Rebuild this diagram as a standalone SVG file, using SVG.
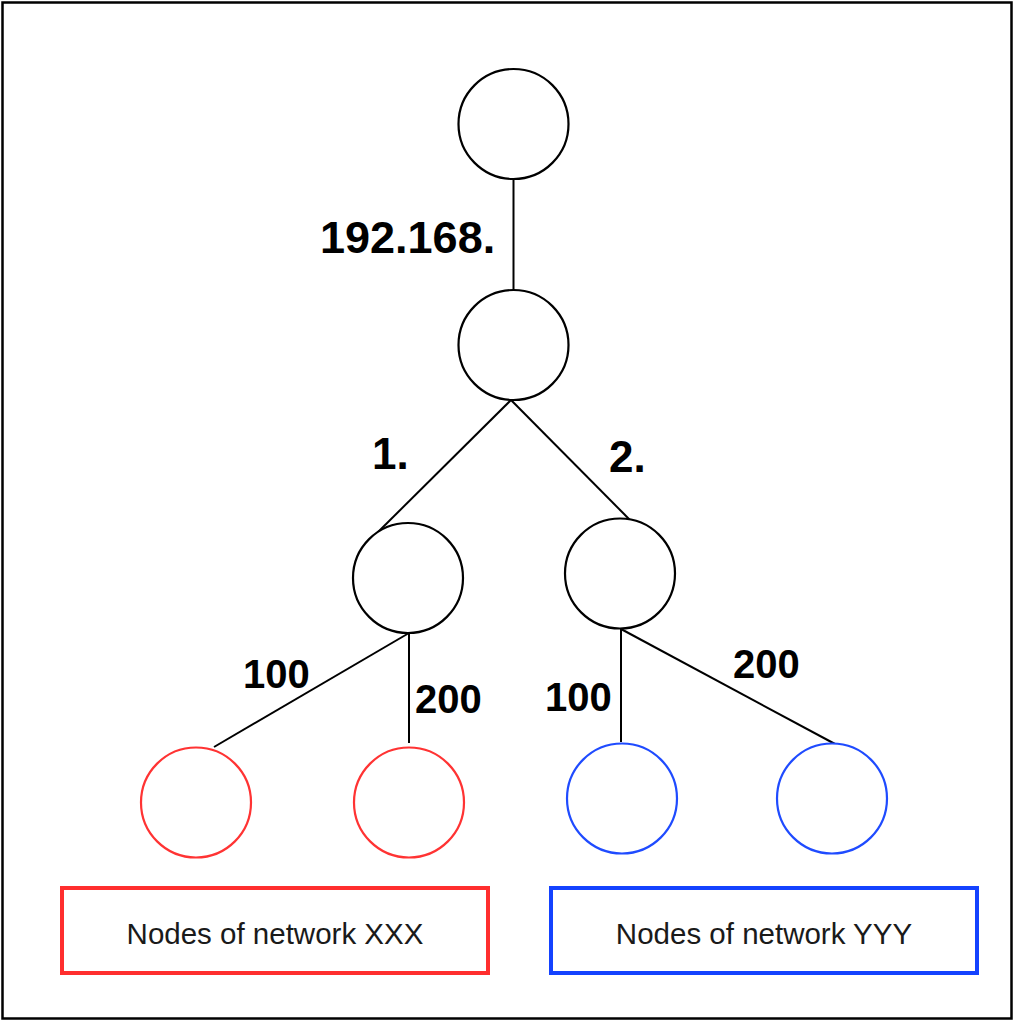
<svg xmlns="http://www.w3.org/2000/svg" width="1014" height="1021" viewBox="0 0 1014 1021">
  <style>
    .node { fill: #ffffff; stroke: #000000; stroke-width: 2.2; }
    .red { fill: #ffffff; stroke: #FF3333; stroke-width: 2.2; }
    .blue { fill: #ffffff; stroke: #1F4BFF; stroke-width: 2.2; }
    .edge { stroke: #000000; stroke-width: 2; fill: none; }
    .lbl { font-family: "Liberation Sans", Arial, sans-serif; font-weight: bold; fill: #000000; }
    .box-text { font-family: "Liberation Sans", Arial, sans-serif; font-size: 29.5px; fill: #1a1a1a; text-anchor: middle; }
  </style>
  <rect x="0" y="0" width="1014" height="1021" fill="#ffffff"/>
  <rect x="2.5" y="2.5" width="1009" height="1016" fill="none" stroke="#000000" stroke-width="2.5"/>

  <g id="connectors">
    <line class="edge" x1="513.5" y1="179" x2="513.5" y2="290"/>
    <line class="edge" x1="511" y1="400" x2="372" y2="538"/>
    <line class="edge" x1="511" y1="400" x2="630" y2="520"/>
    <line class="edge" x1="409" y1="633" x2="214" y2="747"/>
    <line class="edge" x1="409" y1="633" x2="409" y2="743"/>
    <line class="edge" x1="621" y1="629" x2="621" y2="742"/>
    <line class="edge" x1="621" y1="629" x2="835" y2="744"/>
  </g>

  <g id="labels">
    <text class="lbl" x="320" y="253" font-size="45">192.168.</text>
    <text class="lbl" x="372" y="469" font-size="44">1.</text>
    <text class="lbl" x="609" y="472" font-size="44">2.</text>
    <text class="lbl" x="243" y="688" font-size="40">100</text>
    <text class="lbl" x="415" y="713" font-size="40">200</text>
    <text class="lbl" x="545" y="711" font-size="40">100</text>
    <text class="lbl" x="733" y="678" font-size="40">200</text>
  </g>

  <g id="root"><circle class="node" cx="513.5" cy="124" r="55"/></g>
  <g id="n192"><circle class="node" cx="513.5" cy="345" r="55"/></g>
  <g id="n1"><circle class="node" cx="408" cy="578" r="55"/></g>
  <g id="n2"><circle class="node" cx="620" cy="573.5" r="55"/></g>
  <g id="n1-100"><circle class="red" cx="196" cy="802.5" r="55"/></g>
  <g id="n1-200"><circle class="red" cx="409" cy="802.5" r="55"/></g>
  <g id="n2-100"><circle class="blue" cx="622" cy="798.5" r="55"/></g>
  <g id="n2-200"><circle class="blue" cx="832" cy="798.5" r="55"/></g>

  <g id="legend-xxx">
    <rect x="62" y="888" width="426" height="85" fill="#ffffff" stroke="#FF2E2E" stroke-width="4"/>
    <text class="box-text" x="275" y="944">Nodes of network XXX</text>
  </g>
  <g id="legend-yyy">
    <rect x="551" y="888" width="426" height="85" fill="#ffffff" stroke="#1442FF" stroke-width="4"/>
    <text class="box-text" x="764" y="944">Nodes of network YYY</text>
  </g>
</svg>
